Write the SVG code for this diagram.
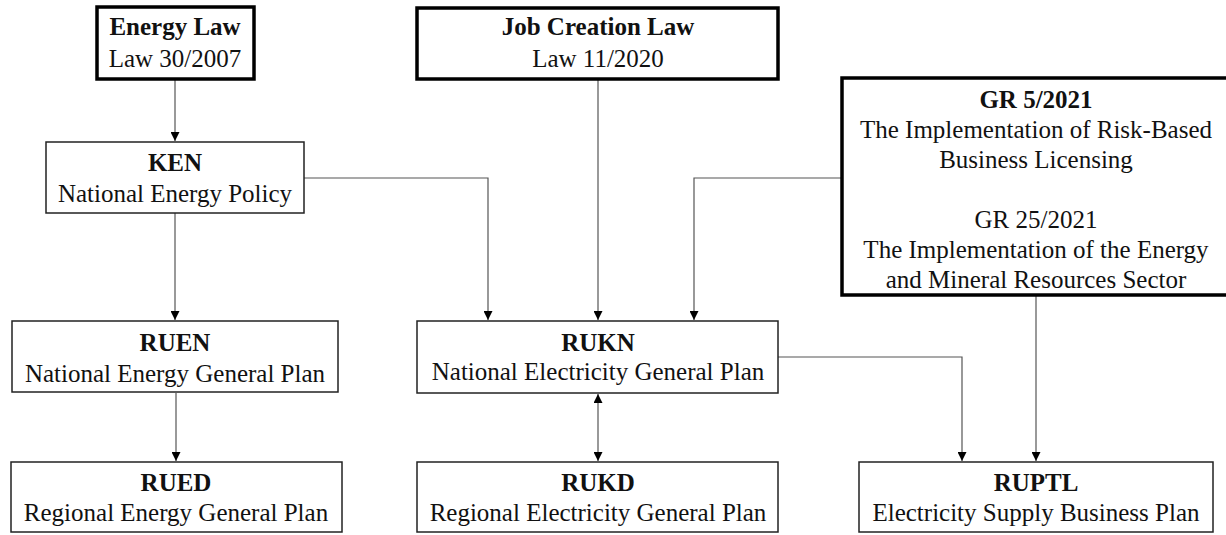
<svg xmlns="http://www.w3.org/2000/svg" width="1226" height="535" viewBox="0 0 1226 535">
<defs>
<style>
.thin{fill:#fff;stroke:#222;stroke-width:1.5}
.thick{fill:#fff;stroke:#000;stroke-width:3.5}
text{font-family:"Liberation Serif","Times New Roman",serif;font-size:25px;fill:#111;text-anchor:middle}
.b{font-weight:bold}
.c{fill:none;stroke:#555;stroke-width:1.2}
</style>
<marker id="ah" viewBox="0 0 10 10" refX="10" refY="5" markerWidth="9" markerHeight="9" markerUnits="userSpaceOnUse" orient="auto-start-reverse">
<path d="M0,0 L10,5 L0,10 Z" fill="#000"/>
</marker>
</defs>
<g id="connectors">
<path class="c" d="M175,80 V141" marker-end="url(#ah)"/>
<path class="c" d="M598,80 V320" marker-end="url(#ah)"/>
<path class="c" d="M304,178 H488 V320" marker-end="url(#ah)"/>
<path class="c" d="M842,178 H694 V320" marker-end="url(#ah)"/>
<path class="c" d="M175,213 V320" marker-end="url(#ah)"/>
<path class="c" d="M176,393 V461" marker-end="url(#ah)"/>
<path class="c" d="M598,394 V461" marker-start="url(#ah)" marker-end="url(#ah)"/>
<path class="c" d="M778,357 H962 V461" marker-end="url(#ah)"/>
<path class="c" d="M1036,296 V461" marker-end="url(#ah)"/>
</g>
<g id="energy-law">
<rect class="thick" x="97" y="7" width="157" height="72"/>
<text class="b" x="175" y="35">Energy Law</text>
<text x="175" y="67">Law 30/2007</text>
</g>
<g id="job-creation-law">
<rect class="thick" x="417" y="8" width="361" height="71"/>
<text class="b" x="598" y="35">Job Creation Law</text>
<text x="598" y="67">Law 11/2020</text>
</g>
<g id="gr">
<rect class="thick" x="842" y="78" width="390" height="217"/>
<text class="b" x="1036" y="108">GR 5/2021</text>
<text x="1036" y="138">The Implementation of Risk-Based</text>
<text x="1036" y="168">Business Licensing</text>
<text x="1036" y="228">GR 25/2021</text>
<text x="1036" y="258">The Implementation of the Energy</text>
<text x="1036" y="288">and Mineral Resources Sector</text>
</g>
<g id="ken">
<rect class="thin" x="46" y="142" width="258" height="71"/>
<text class="b" x="175" y="171">KEN</text>
<text x="175" y="202">National Energy Policy</text>
</g>
<g id="ruen">
<rect class="thin" x="12" y="321" width="326" height="71"/>
<text class="b" x="175" y="351">RUEN</text>
<text x="175" y="382">National Energy General Plan</text>
</g>
<g id="rukn">
<rect class="thin" x="417" y="321" width="361" height="72"/>
<text class="b" x="598" y="351">RUKN</text>
<text x="598" y="380">National Electricity General Plan</text>
</g>
<g id="rued">
<rect class="thin" x="11" y="462" width="331" height="70"/>
<text class="b" x="176" y="491">RUED</text>
<text x="176" y="521">Regional Energy General Plan</text>
</g>
<g id="rukd">
<rect class="thin" x="417" y="462" width="361" height="70"/>
<text class="b" x="598" y="491">RUKD</text>
<text x="598" y="521">Regional Electricity General Plan</text>
</g>
<g id="ruptl">
<rect class="thin" x="859" y="462" width="354" height="70"/>
<text class="b" x="1036" y="491">RUPTL</text>
<text x="1036" y="521">Electricity Supply Business Plan</text>
</g>
</svg>
